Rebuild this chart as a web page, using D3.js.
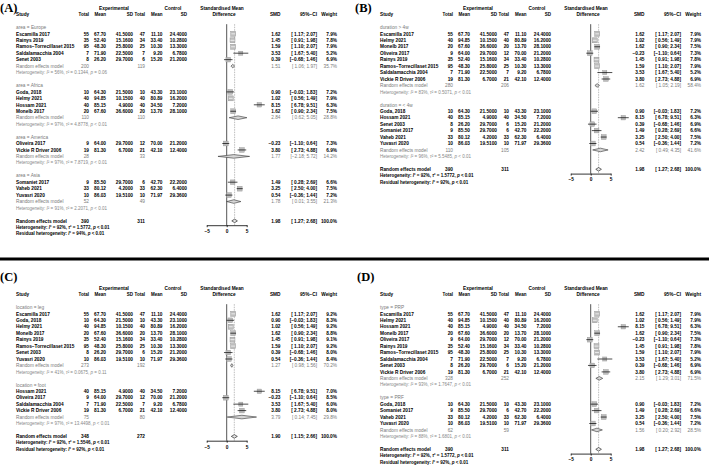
<!DOCTYPE html>
<html><head><meta charset="utf-8">
<script src="https://cdn.jsdelivr.net/npm/d3@7"></script>
<style>body{margin:0;background:#fff} svg{display:block} text{white-space:pre}</style>
</head><body>
<script>
// ---------------- DATA ----------------
const studyNames = ["Escamilla 2017","Goda, 2018","Helmy 2021","Hossam 2021","Monelb 2017","Oliveira 2017","Rainys 2019","Ramos\u2212Torrecillaset 2015","Saldalamacchia 2004","Senet 2003","Somaniet 2017","Vaheb 2021","Vickie R Driver 2006","Yuvasri 2020"];
const expTotal  = [55,10,40,40,20,9,35,95,7,8,9,33,19,10];
const expMean   = [67.70,64.30,94.85,85.15,67.60,64.00,52.40,48.30,71.90,26.20,85.50,80.12,81.30,86.03];
const expSD     = [41.5,21.5,10.15,4.9,36.6,29.7,15.16,25.8,22.5,29.7,29.7,4.2,6.7,19.51];
const ctrlTotal = [47,10,40,40,20,12,34,25,7,6,6,33,21,10];
const ctrlMean  = [11.10,43.30,80.89,34.50,13.70,70.00,33.40,10.30,9.20,15.20,42.70,62.30,42.10,71.97];
const ctrlSD    = [24.4,23.1,16.2,7.2,28.1,21.2,10.28,13.3,6.78,21.2,22.2,6.4,12.4,29.36];
const smd       = [1.62,0.90,1.02,8.15,1.62,-0.23,1.45,1.59,3.53,0.39,1.49,3.25,3.80,0.54];
const ciLow     = [1.17,-0.03,0.56,6.78,0.90,-1.10,0.91,1.10,1.67,-0.68,0.28,2.50,2.73,-0.36];
const ciHigh    = [2.07,1.83,1.49,9.51,2.34,0.64,1.98,2.07,5.40,1.46,2.69,4.00,4.88,1.44];
const weightAll      = [7.9,7.2,7.9,6.3,7.5,7.3,7.8,7.9,5.2,6.9,6.6,7.5,6.9,7.2];
const weightLocation = [9.2,8.3,9.2,7.0,8.8,8.5,9.1,9.2,6.0,8.0,null,null,8.0,8.4];

// Panel A: area
const areaLabels   = ["area = Europe","area = Africa","area = America","area = Asia"];
const areaMembers  = [[0,6,7,8,9],[1,2,3,4],[5,12],[10,11,13]];
const areaExpTotal = [200,110,28,52];
const areaCtrlTotal= [119,110,33,49];
const areaSMD      = [1.51,2.84,1.77,1.78];
const areaLow      = [1.06,0.62,-2.18,0.01];
const areaHigh     = [1.97,5.05,5.72,3.55];
const areaWeight   = [35.7,28.8,14.2,21.3];
const areaI2       = [56,97,97,91];
const areaTau2     = [0.1344,4.8778,7.8719,2.2071];
const areaP        = ["= 0.06","< 0.01","< 0.01","< 0.01"];

// Panel B: duration
const durLabels    = ["duration > 4w","duration = < 4w"];
const durMembers   = [[0,2,4,5,6,7,8,12],[1,3,9,10,11,13]];
const durExpTotal  = [280,110];
const durCtrlTotal = [206,105];
const durSMD       = [1.62,2.42];
const durLow       = [1.05,0.49];
const durHigh      = [2.19,4.35];
const durWeight    = [58.4,41.6];
const durI2        = [83,96];
const durTau2      = [0.5071,5.5485];
const durP         = ["< 0.01","< 0.01"];

// Panel C: location
const locLabels    = ["location = leg","location = foot"];
const locMembers   = [[0,1,2,4,6,7,9,13],[3,5,8,12]];
const locExpTotal  = [273,75];
const locCtrlTotal = [192,80];
const locSMD       = [1.27,3.79];
const locLow       = [0.98,0.14];
const locHigh      = [1.56,7.45];
const locWeight    = [70.2,29.8];
const locI2        = [41,97];
const locTau2      = [0.0675,13.4498];
const locP         = ["= 0.11","< 0.01"];

// Panel D: type
const typeLabels   = ["type = PRP","type = PRF"];
const typeMembers  = [[0,2,3,4,5,6,7,8,9,12],[1,10,11,13]];
const typeExpTotal = [328,62];
const typeCtrlTotal= [252,59];
const typeSMD      = [2.15,1.56];
const typeLow      = [1.29,0.20];
const typeHigh     = [3.01,2.92];
const typeWeight   = [71.5,28.5];
const typeI2       = [93,88];
const typeTau2     = [1.7647,1.6801];
const typeP        = ["< 0.01","< 0.01"];

// Overall per panel (A, B, C, D)
const panelNames   = ["(A)","(B)","(C)","(D)"];
const overallExp   = [390,390,348,390];
const overallCtrl  = [311,311,272,311];
const overallSMD   = [1.98,1.98,1.90,1.98];
const overallLow   = [1.27,1.27,1.15,1.27];
const overallHigh  = [2.68,2.68,2.66,2.68];
const overallI2    = [92,92,92,92];
const overallTau2  = [1.5772,1.5772,1.5546,1.5772];
const residualI2   = [94,92,92,92];
const axisTicks    = [-5,0,5];

// ---------------- DRAWING ----------------
const W = 709, H = 467, R = 6.45, FS = 4.75, HFS = 4.5;
const GRAY = "#7a7a7a", HGRAY = "#888";
const svg = d3.select("body").append("svg").attr("width", W).attr("height", H)
  .attr("font-family", "'Liberation Sans', Arial, Helvetica, sans-serif");

const f2 = d3.format(".2f"), f4 = d3.format(".4f"), f1 = d3.format(".1f");
const mn = s => String(s).replace("-", "\u2212");
const n2 = v => mn(f2(v));
const ci = (lo, hi) => "[" + (lo < 0 ? n2(lo) : " " + f2(lo)) + "; " + n2(hi) + "]";

function T(g, x, y, s, o = {}) {
  const size = o.size || FS;
  return g.append("text").attr("x", x).attr("y", y + size * 0.36)
    .attr("text-anchor", o.anchor || "start").attr("font-size", size)
    .attr("font-weight", o.weight || "bold").attr("fill", o.fill || "#000").text(s);
}
function hetT(g, x, y, parts, o) {
  const t = g.append("text").attr("x", x).attr("y", y + o.size * 0.36)
    .attr("font-size", o.size).attr("font-weight", o.weight).attr("fill", o.fill);
  parts.forEach(p => t.append("tspan").attr("font-style", p[1] ? "italic" : "normal").text(p[0]));
}

function groupsFrom(labels, members, eT, cT, s, lo, hi, w, i2, tau, p) {
  return labels.map((l, j) => ({label: l, members: members[j], eT: eT[j], cT: cT[j], smd: s[j], lo: lo[j], hi: hi[j], w: w[j], i2: i2[j], tau: tau[j], p: p[j]}));
}

const panels = [
  {x0: 0,   y0: 14.5,  lx: 0,   ly: 12,  weights: weightAll,
   groups: groupsFrom(areaLabels, areaMembers, areaExpTotal, areaCtrlTotal, areaSMD, areaLow, areaHigh, areaWeight, areaI2, areaTau2, areaP)},
  {x0: 364, y0: 14.5,  lx: 355, ly: 12,  weights: weightAll,
   groups: groupsFrom(durLabels, durMembers, durExpTotal, durCtrlTotal, durSMD, durLow, durHigh, durWeight, durI2, durTau2, durP)},
  {x0: 0,   y0: 294.5, lx: 0,   ly: 281, weights: weightLocation,
   groups: groupsFrom(locLabels, locMembers, locExpTotal, locCtrlTotal, locSMD, locLow, locHigh, locWeight, locI2, locTau2, locP)},
  {x0: 364, y0: 294.5, lx: 357, ly: 281, weights: weightAll,
   groups: groupsFrom(typeLabels, typeMembers, typeExpTotal, typeCtrlTotal, typeSMD, typeLow, typeHigh, typeWeight, typeI2, typeTau2, typeP)}
];

// separator
svg.append("line").attr("x1", 0).attr("x2", W).attr("y1", 259).attr("y2", 259)
  .attr("stroke", "#000").attr("stroke-width", 3);

panels.forEach((P, pi) => {
  const g = svg.append("g");
  const X = P.x0;
  const c = {lab: X + 16, eT: X + 89, eM: X + 106, eS: X + 133, cT: X + 145, cM: X + 162.5, cS: X + 187,
             smd: X + 280.5, ci: X + 317, w: X + 337};
  const xs = d3.scaleLinear().domain([-5, 5]).range([X + 206.7, X + 246.7]);
  const yr = i => P.y0 + i * R;

  // panel label
  g.append("text").attr("x", P.lx).attr("y", P.ly).attr("font-family", "'Liberation Serif', 'Times New Roman', serif")
    .attr("font-weight", "bold").attr("font-size", 12.5).text(panelNames[pi]);

  // headers
  T(g, X + 114, yr(-1), "Experimental", {anchor: "middle"});
  T(g, X + 173, yr(-1), "Control", {anchor: "middle"});
  T(g, X + 222, yr(-1), "Standardised Mean", {anchor: "middle"});
  T(g, X + 224, yr(0), "Difference", {anchor: "middle"});
  T(g, c.lab, yr(0), "Study");
  T(g, c.eT, yr(0), "Total", {anchor: "end", size: 4.5});
  T(g, c.eM, yr(0), "Mean", {anchor: "end", size: 4.5});
  T(g, c.eS, yr(0), "SD", {anchor: "end", size: 4.5});
  T(g, c.cT, yr(0), "Total", {anchor: "end", size: 4.5});
  T(g, c.cM, yr(0), "Mean", {anchor: "end", size: 4.5});
  T(g, c.cS, yr(0), "SD", {anchor: "end", size: 4.5});
  T(g, c.smd, yr(0), "SMD", {anchor: "end"});
  T(g, c.ci, yr(0), "95%\u2212CI", {anchor: "end"});
  T(g, c.w, yr(0), "Weight", {anchor: "end"});

  let nRows = 2;
  P.groups.forEach(gr => { nRows += gr.members.length + 4; });
  const yOverall = yr(nRows);
  const axisY = yOverall + 4.3;
  const yTop = yr(2) - R / 2;

  // reference lines
  g.append("line").attr("x1", xs(0)).attr("x2", xs(0)).attr("y1", yTop).attr("y2", axisY)
    .attr("stroke", "#555").attr("stroke-width", 1);
  g.append("line").attr("x1", xs(overallSMD[pi])).attr("x2", xs(overallSMD[pi])).attr("y1", yTop).attr("y2", axisY)
    .attr("stroke", "#a0a0a0").attr("stroke-width", 0.7).attr("stroke-dasharray", "1.5,1");

  const maxW = d3.max(P.weights.filter(v => v != null));
  const diamond = (cx, lo, hi, y, fill, stroke) => {
    g.append("path").attr("d", `M${xs(lo)},${y} L${xs(cx)},${y - 1.8} L${xs(hi)},${y} L${xs(cx)},${y + 1.8} Z`)
      .attr("fill", fill).attr("stroke", stroke).attr("stroke-width", 0.6);
  };

  let i = 2;
  P.groups.forEach(gr => {
    T(g, c.lab, yr(i), gr.label, {weight: "normal", fill: GRAY});
    i++;
    gr.members.forEach(k => {
      const y = yr(i);
      T(g, c.lab, y, studyNames[k]);
      T(g, c.eT, y, String(expTotal[k]), {anchor: "end"});
      T(g, c.eM, y, f2(expMean[k]), {anchor: "end"});
      T(g, c.eS, y, f4(expSD[k]), {anchor: "end"});
      T(g, c.cT, y, String(ctrlTotal[k]), {anchor: "end"});
      T(g, c.cM, y, f2(ctrlMean[k]), {anchor: "end"});
      T(g, c.cS, y, f4(ctrlSD[k]), {anchor: "end"});
      T(g, c.smd, y, n2(smd[k]), {anchor: "end"});
      T(g, c.ci, y, ci(ciLow[k], ciHigh[k]), {anchor: "end"});
      T(g, c.w, y, f1(P.weights[k]) + "%", {anchor: "end"});
      const side = 5 * Math.sqrt(P.weights[k] / maxW);
      const inside = (xs(ciHigh[k]) - xs(ciLow[k])) < side;
      g.append("rect").attr("x", xs(smd[k]) - side / 2).attr("y", y - side / 2).attr("width", side).attr("height", side)
        .attr("fill", "#bdbdbd").attr("stroke", "#8f8f8f").attr("stroke-width", 0.4);
      g.append("line").attr("x1", xs(ciLow[k])).attr("x2", xs(ciHigh[k])).attr("y1", y).attr("y2", y)
        .attr("stroke", inside ? "#fff" : "#000").attr("stroke-width", 0.7);
      i++;
    });
    const y = yr(i);
    T(g, c.lab, y, "Random effects model", {weight: "normal", fill: GRAY});
    T(g, c.eT, y, String(gr.eT), {anchor: "end", weight: "normal", fill: GRAY});
    T(g, c.cT, y, String(gr.cT), {anchor: "end", weight: "normal", fill: GRAY});
    T(g, c.smd, y, n2(gr.smd), {anchor: "end", weight: "normal", fill: GRAY});
    T(g, c.ci, y, ci(gr.lo, gr.hi), {anchor: "end", weight: "normal", fill: GRAY});
    T(g, c.w, y, f1(gr.w) + "%", {anchor: "end", weight: "normal", fill: GRAY});
    diamond(gr.smd, gr.lo, gr.hi, y, "#d6d6d6", "#333");
    i++;
    hetT(g, c.lab, yr(i), [["Heterogeneity: ", false], ["I", true], ["\u00b2 = " + gr.i2 + "%, ", false], ["\u03c4", true],
      ["\u00b2 = " + f4(gr.tau) + ", ", false], ["p", true], [" " + gr.p, false]], {size: HFS, weight: "normal", fill: HGRAY});
    i += 2;
  });

  // overall
  const y = yr(i);
  T(g, c.lab, y, "Random effects model");
  T(g, c.eT, y, String(overallExp[pi]), {anchor: "end"});
  T(g, c.cT, y, String(overallCtrl[pi]), {anchor: "end"});
  T(g, c.smd, y, n2(overallSMD[pi]), {anchor: "end"});
  T(g, c.ci, y, ci(overallLow[pi], overallHigh[pi]), {anchor: "end"});
  T(g, c.w, y, "100.0%", {anchor: "end"});
  diamond(overallSMD[pi], overallLow[pi], overallHigh[pi], y, "#e4e4e4", "#111");
  hetT(g, c.lab, yr(i + 1), [["Heterogeneity: ", false], ["I", true], ["\u00b2 = " + overallI2[pi] + "%, ", false], ["\u03c4", true],
    ["\u00b2 = " + f4(overallTau2[pi]) + ", ", false], ["p", true], [" < 0.01", false]], {size: HFS, weight: "bold", fill: "#000"});
  hetT(g, c.lab, yr(i + 2), [["Residual heterogeneity: ", false], ["I", true], ["\u00b2 = " + residualI2[pi] + "%, ", false],
    ["p", true], [" < 0.01", false]], {size: HFS, weight: "bold", fill: "#000"});

  // axis
  const ax = g.append("g").attr("transform", `translate(0,${axisY})`)
    .call(d3.axisBottom(xs).tickValues(axisTicks).tickSize(2).tickSizeOuter(0).tickPadding(2.5)
      .tickFormat(d => mn(String(d))));
  ax.select(".domain").attr("stroke", "#000").attr("stroke-width", 0.8);
  ax.selectAll(".tick line").attr("stroke", "#000").attr("stroke-width", 0.8);
  ax.selectAll(".tick text").attr("font-size", FS).attr("font-weight", "bold").attr("font-family", null).attr("fill", "#000");
});
</script>
</body></html>
